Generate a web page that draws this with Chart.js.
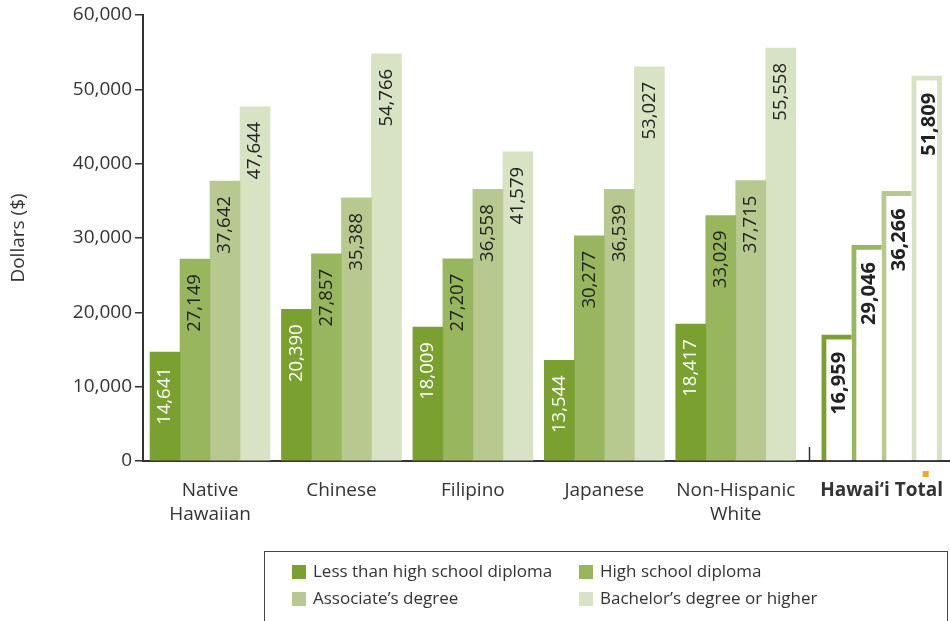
<!DOCTYPE html>
<html>
<head>
<meta charset="utf-8">
<script src="https://cdn.jsdelivr.net/npm/chart.js@4.4.1/dist/chart.umd.min.js"></script>
<style>
  body { margin: 0; background: #fff; }
  #wrap { width: 950px; height: 621px; position: relative; }
</style>
</head>
<body>
<div id="wrap"><canvas id="chart"></canvas></div>
<script>
// groups along the x axis; the last group sits a little apart from the others
const groupLabels = [['Native', 'Hawaiian'], 'Chinese', 'Filipino', 'Japanese', ['Non-Hispanic', 'White'], 'Hawai\u2018i Total'];
const groupPos = [0, 1, 2, 3, 4, 5.11];
const totalIndex = 5;

const seriesNames = ['Less than high school diploma', 'High school diploma', 'Associate\u2019s degree', 'Bachelor\u2019s degree or higher'];
const lessThanHS = [14641, 20390, 18009, 13544, 18417, 16959];
const highSchool = [27149, 27857, 27207, 30277, 33029, 29046];
const associate = [37642, 35388, 36558, 36539, 37715, 36266];
const bachelor = [47644, 54766, 41579, 53027, 55558, 51809];

const yTicks = [0, 10000, 20000, 30000, 40000, 50000, 60000];

const colors = ['#7aa130', '#98b65e', '#b7c98f', '#d8e3c4'];
const FONT = '"Open Sans", "Noto Sans", sans-serif';

const allSeries = [lessThanHS, highSchool, associate, bachelor];

const datasets = allSeries.map((vals, di) => ({
  label: seriesNames[di],
  data: vals.map((v, i) => ({ x: groupPos[i], y: v })),
  barThickness: 30,
  backgroundColor: (c) => c.dataIndex === totalIndex ? '#fff' : colors[di],
  borderColor: colors[di],
  borderWidth: (c) => c.dataIndex === totalIndex
    ? { top: 5, left: 5, right: di === 3 ? 5 : 0, bottom: 0 }
    : 0,
  borderSkipped: 'bottom'
}));

// value labels written upwards inside each bar
const barLabels = {
  id: 'barLabels',
  afterDatasetsDraw(chart) {
    const ctx = chart.ctx;
    chart.data.datasets.forEach((ds, di) => {
      chart.getDatasetMeta(di).data.forEach((bar, i) => {
        const total = i === totalIndex;
        ctx.save();
        ctx.translate(bar.x + (total ? 2.5 : 0), bar.y + (total ? 17 : 15));
        ctx.rotate(-Math.PI / 2);
        ctx.font = total ? 'bold 20px ' + FONT : '18.5px ' + FONT;
        ctx.fillStyle = (di === 0 && !total) ? '#ffffff' : '#222222';
        ctx.textAlign = 'right';
        ctx.textBaseline = 'middle';
        ctx.fillText(allSeries[di][i].toLocaleString('en-US'), 0, 0);
        ctx.restore();
      });
    });
  }
};

// separator tick, small marker and the boxed two-column legend
const extras = {
  id: 'extras',
  afterDraw(chart) {
    const ctx = chart.ctx;
    const x = chart.scales.x;
    const bottom = chart.chartArea.bottom;
    ctx.save();
    const sx = Math.round(x.getPixelForValue((groupPos[4] + groupPos[5]) / 2)) + 0.5;
    ctx.strokeStyle = '#333';
    ctx.lineWidth = 1.5;
    ctx.beginPath();
    ctx.moveTo(sx, bottom - 14);
    ctx.lineTo(sx, bottom);
    ctx.stroke();

    ctx.fillStyle = '#f5a623';
    ctx.fillRect(x.getPixelForValue(groupPos[5]) + 41, bottom + 10, 6, 6);

    ctx.strokeStyle = '#444';
    ctx.lineWidth = 1;
    ctx.strokeRect(264.5, 551.5, 683, 90);

    ctx.font = '17px ' + FONT;
    ctx.textBaseline = 'middle';
    ctx.textAlign = 'left';
    const colX = [292, 579];
    const rowY = [572, 599];
    seriesNames.forEach((name, k) => {
      const cx = colX[k % 2];
      const cy = rowY[Math.floor(k / 2)];
      ctx.fillStyle = colors[k];
      ctx.fillRect(cx, cy - 7, 14, 14);
      ctx.fillStyle = '#333';
      ctx.fillText(name, cx + 21, cy);
    });
    ctx.restore();
  }
};

new Chart(document.getElementById('chart'), {
  type: 'bar',
  data: { datasets },
  plugins: [barLabels, extras],
  options: {
    responsive: true,
    maintainAspectRatio: false,
    animation: false,
    layout: { padding: { top: 15, bottom: 70, left: 0, right: 0 } },
    plugins: {
      legend: { display: false },
      tooltip: { enabled: false }
    },
    scales: {
      x: {
        type: 'linear',
        offset: false,
        min: -0.51,
        max: 5.63,
        afterBuildTicks: (scale) => { scale.ticks = groupPos.map(v => ({ value: v })); },
        afterFit: (scale) => {
          scale.height = 90;
          scale.paddingLeft = 0;
          scale.paddingRight = 0;
        },
        grid: { display: false, drawTicks: false, offset: false },
        border: { display: true, color: '#333', width: 2 },
        ticks: {
          autoSkip: false,
          maxRotation: 0,
          padding: 17,
          color: '#333',
          font: (c) => ({ family: FONT, size: 19, lineHeight: 1.3, weight: c.index === totalIndex ? 'bold' : 'normal' }),
          callback: (value, index) => groupLabels[index]
        }
      },
      y: {
        min: 0,
        max: 60000,
        afterBuildTicks: (scale) => { scale.ticks = yTicks.map(v => ({ value: v })); },
        afterFit: (scale) => { scale.width = 143; },
        grid: { drawOnChartArea: false, drawTicks: true, tickLength: 8, color: '#333', lineWidth: 1.5 },
        border: { display: true, color: '#333', width: 2 },
        ticks: {
          padding: 3,
          color: '#333',
          font: { family: FONT, size: 19 },
          callback: (v) => v.toLocaleString('en-US')
        },
        title: {
          display: true,
          text: 'Dollars ($)',
          color: '#333',
          font: { family: FONT, size: 19 },
          padding: { top: 7, bottom: 4 }
        }
      }
    }
  }
});
</script>
</body>
</html>
